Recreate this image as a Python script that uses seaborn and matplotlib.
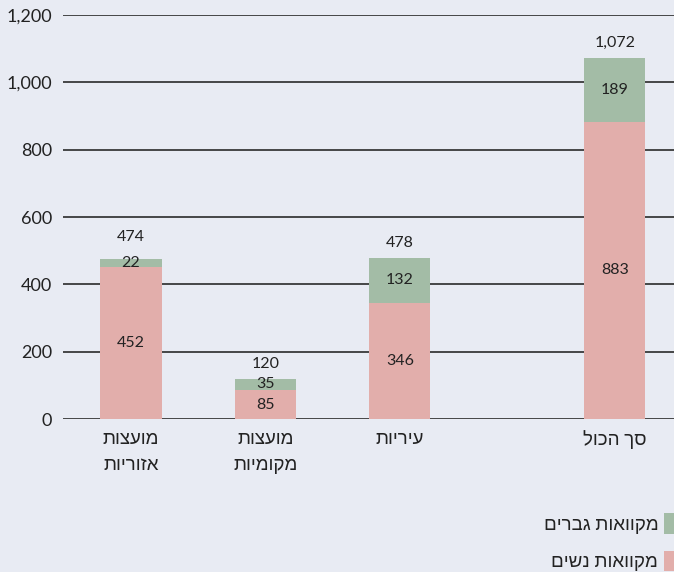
import numpy as np
import pandas as pd
import seaborn as sns
import matplotlib.pyplot as plt
from matplotlib.patches import Patch
from matplotlib.ticker import FuncFormatter

# data
categories = ['מועצות\nאזוריות', 'מועצות\nמקומיות', 'עיריות', 'סך הכול']
women = [452, 85, 346, 883]
men = [22, 35, 132, 189]
series_names = ['מקוואות נשים', 'מקוואות גברים']
yticks = [0, 200, 400, 600, 800, 1000, 1200]

# bar positions (last bar stands apart)
xpos = [0, 1, 2, 3.6]

BG = '#e8ebf3'
PINK = '#e2aeab'
GREEN = '#a3bca6'
TXT = '#222222'


def heb(s):
    # matplotlib has no bidi, so flip each line for display
    return '\n'.join(line[::-1] for line in s.split('\n'))


df = pd.DataFrame({'x': xpos, 'women': women, 'men': men})
df['total'] = df['women'] + df['men']

sns.set_theme(style='white', rc={'axes.facecolor': BG, 'figure.facecolor': BG})
plt.rcParams['font.family'] = ['Lato', 'Liberation Sans', 'DejaVu Sans']

fig = plt.figure(figsize=(6.74, 5.72), dpi=100)
ax = fig.add_axes([63 / 674, 1 - 419 / 572, 1 - 63 / 674, (419 - 15) / 572])

sns.barplot(data=df, x='x', y='total', color=GREEN, native_scale=True,
            width=0.455, saturation=1, linewidth=0, ax=ax, zorder=3)
sns.barplot(data=df, x='x', y='women', color=PINK, native_scale=True,
            width=0.455, saturation=1, linewidth=0, ax=ax, zorder=3)

ax.set_ylim(0, 1200)
ax.set_xlim(-0.506, 4.04)
ax.set_yticks(yticks)
ax.yaxis.set_major_formatter(FuncFormatter(lambda v, p: f'{int(v):,}'))
ax.grid(axis='y', color='#2a2a2a', linewidth=1.2, zorder=0)
ax.set_axisbelow(True)
for s in ax.spines.values():
    s.set_visible(False)
ax.tick_params(axis='y', length=0, pad=8, labelsize=13, labelcolor=TXT)
ax.tick_params(axis='x', length=0, pad=8, labelsize=13.5, labelcolor=TXT)
ax.set_xticks(xpos)
ax.set_xticklabels([heb(c) for c in categories], linespacing=1.6)
ax.set_xlabel('')
ax.set_ylabel('')

# value labels
for w, m, x in zip(women, men, xpos):
    t = w + m
    ax.text(x, w / 2, f'{w:,}', ha='center', va='center',
            fontsize=11.5, color=TXT, zorder=5)
    ax.text(x, w + m / 2, f'{m:,}', ha='center', va='center',
            fontsize=11.5, color=TXT, zorder=5)
    off = 22 if m < 30 else 15
    ax.annotate(f'{t:,}', (x, t), xytext=(0, off * 0.72),
                textcoords='offset points', ha='center', va='center',
                fontsize=11.5, color=TXT)

# legend, text left of the swatch
handles = [Patch(color=GREEN, linewidth=0), Patch(color=PINK, linewidth=0)]
labels = [heb(series_names[1]), heb(series_names[0])]
fig.legend(handles, labels, loc='lower right', bbox_to_anchor=(1.035, -0.028),
           frameon=False, markerfirst=False, handlelength=0.9, handleheight=1.3,
           handletextpad=0.3, labelspacing=0.9, fontsize=13.5, labelcolor=TXT)

fig.savefig('out.png', dpi=100, facecolor=BG)
